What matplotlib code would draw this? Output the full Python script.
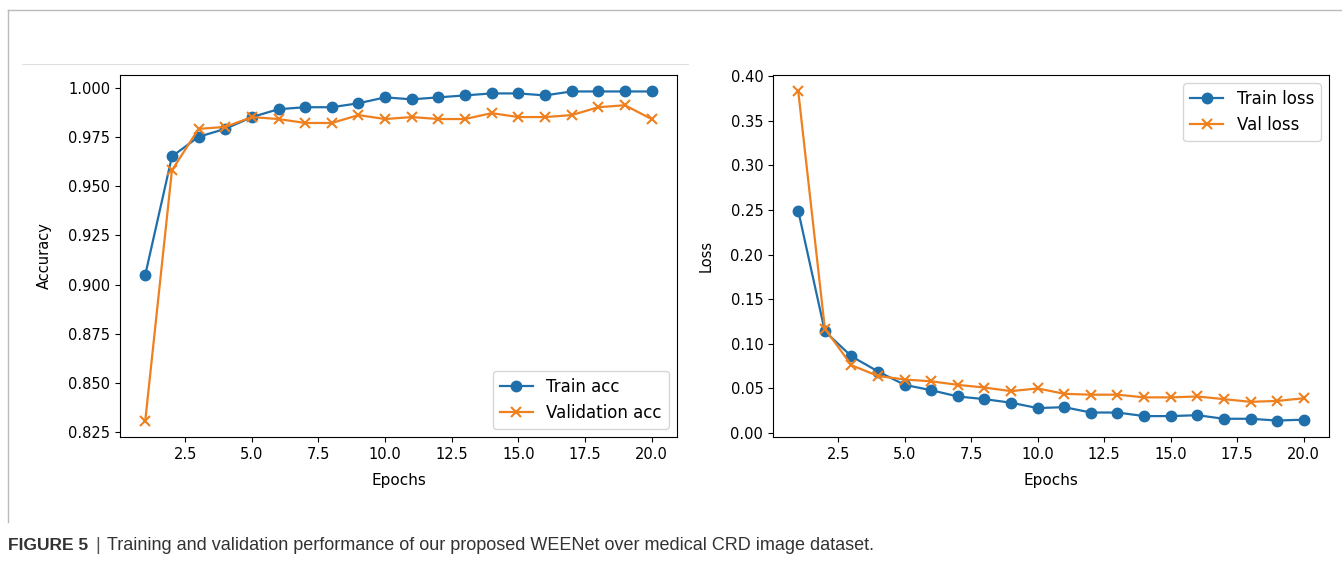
import matplotlib
matplotlib.use("Agg")
import matplotlib.pyplot as plt
from matplotlib.lines import Line2D

BLUE = "#1f6fab"
ORANGE = "#ee801f"

epochs = list(range(1, 21))

train_acc = [0.905, 0.965, 0.975, 0.979, 0.985, 0.989, 0.990, 0.990, 0.992, 0.995,
             0.994, 0.995, 0.996, 0.997, 0.997, 0.996, 0.998, 0.998, 0.998, 0.998]
val_acc = [0.831, 0.958, 0.979, 0.980, 0.985, 0.984, 0.982, 0.982, 0.986, 0.984,
           0.985, 0.984, 0.984, 0.987, 0.985, 0.985, 0.986, 0.990, 0.991, 0.984]

train_loss = [0.249, 0.114, 0.086, 0.069, 0.054, 0.048, 0.041, 0.038, 0.034, 0.028,
              0.029, 0.023, 0.023, 0.019, 0.019, 0.020, 0.016, 0.016, 0.014, 0.015]
val_loss = [0.383, 0.117, 0.076, 0.064, 0.060, 0.058, 0.054, 0.051, 0.047, 0.050,
            0.044, 0.043, 0.043, 0.040, 0.040, 0.041, 0.038, 0.035, 0.036, 0.039]

plt.rcParams["font.family"] = "DejaVu Sans"

fig = plt.figure(figsize=(13.42, 5.66), dpi=100)
fig.patch.set_facecolor("white")

ax1 = fig.add_axes([0.0894, 0.2279, 0.415, 0.6396])
ax2 = fig.add_axes([0.576, 0.2279, 0.4143, 0.6396])

line_kw = dict(linewidth=1.6, markersize=7.5)

ax1.plot(epochs, train_acc, marker="o", color=BLUE, label="Train acc", **line_kw)
ax1.plot(epochs, val_acc, marker="x", color=ORANGE, label="Validation acc",
         markeredgewidth=1.5, **line_kw)
ax1.set_ylabel("Accuracy", fontsize=10.5, labelpad=12)
ax1.legend(loc="lower right", fontsize=12)
ax1.yaxis.set_major_formatter(matplotlib.ticker.FormatStrFormatter("%.3f"))

ax2.plot(epochs, train_loss, marker="o", color=BLUE, label="Train loss", **line_kw)
ax2.plot(epochs, val_loss, marker="x", color=ORANGE, label="Val loss",
         markeredgewidth=1.5, **line_kw)
ax2.set_ylabel("Loss", fontsize=10.5, labelpad=12)
ax2.legend(loc="upper right", fontsize=12)

for ax in (ax1, ax2):
    ax.set_xlabel("Epochs", fontsize=11, labelpad=8)
    ax.tick_params(labelsize=10.5)

# page decoration: frame and separator line
fig.add_artist(Line2D([8 / 1342, 1.0], [1 - 10 / 566, 1 - 10 / 566], color="#bbbbbb", linewidth=1.0))
fig.add_artist(Line2D([8 / 1342, 8 / 1342], [1 - 10 / 566, 1 - 522 / 566], color="#bbbbbb", linewidth=1.0))
fig.add_artist(Line2D([22 / 1342, 688 / 1342], [1 - 64 / 566, 1 - 64 / 566], color="#e0e0e0", linewidth=0.8))

# caption
cap_y = 1 - 546 / 566
fig.text(8 / 1342, cap_y, "FIGURE 5", fontsize=12.5, fontweight="bold",
         family="Liberation Sans", color="#333333", va="center")
fig.text(95 / 1342, cap_y, "|", fontsize=13, family="Liberation Sans", color="#555555", va="center")
fig.text(107 / 1342, cap_y, "Training and validation performance of our proposed WEENet over medical CRD image dataset.",
         fontsize=13, family="Liberation Sans", color="#333333", va="center")

fig.savefig("out.png", dpi=100)
